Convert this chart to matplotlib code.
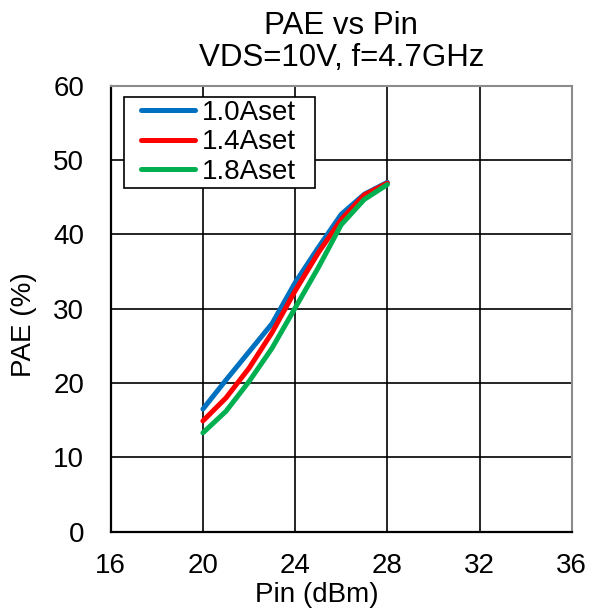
import matplotlib
matplotlib.use("Agg")
import matplotlib.pyplot as plt
from matplotlib.patches import Rectangle
from matplotlib.legend_handler import HandlerLine2D
from matplotlib.lines import Line2D

plt.rcParams['font.family'] = ['Liberation Sans', 'DejaVu Sans']

pin = [20, 21, 22, 23, 24, 25, 26, 27, 28]
pae_10 = [16.5, 20.4, 24.2, 28.0, 33.5, 38.2, 42.7, 45.4, 47.0]
pae_14 = [14.9, 18.0, 22.0, 26.8, 32.4, 37.5, 42.0, 45.3, 46.9]
pae_18 = [13.3, 16.2, 20.2, 24.7, 30.1, 35.5, 41.3, 44.7, 46.7]
labels = ['1.0Aset', '1.4Aset', '1.8Aset']
colors = ['#0070C0', '#FF0000', '#00B050']
xticks = [16, 20, 24, 28, 32, 36]
yticks = [0, 10, 20, 30, 40, 50, 60]

fig = plt.figure(figsize=(5.94, 6.11), dpi=100)
ax = fig.add_axes([0.1864, 0.1298, 0.7761, 0.7299])

for y, lab, c in zip([pae_10, pae_14, pae_18], labels, colors):
    ax.plot(pin, y, color=c, lw=3.6, label=lab, solid_capstyle='round')

ax.set_xlim(16, 36)
ax.set_ylim(0, 60)
ax.set_xticks(xticks)
ax.set_yticks(yticks)
ax.grid(True, color='black', lw=1.2)
ax.set_axisbelow(True)
ax.tick_params(axis='both', labelsize=20, length=0)
ax.tick_params(axis='x', pad=15)
ax.tick_params(axis='y', pad=19)
for s in ['left', 'bottom']:
    ax.spines[s].set_color('black')
    ax.spines[s].set_linewidth(1.6)
for s in ['top', 'right']:
    ax.spines[s].set_color('#8c8c8c')
    ax.spines[s].set_linewidth(1.5)

ax.set_xlabel('Pin (dBm)', fontsize=20)
ax.set_ylabel('PAE (%)', fontsize=20)
ax.xaxis.set_label_coords(0.447, -0.113)
ax.yaxis.set_label_coords(-0.16, 0.4635)
ax.set_title('PAE vs Pin\nVDS=10V, f=4.7GHz', fontsize=22.5, pad=14, linespacing=1.08)

fs = 20
leg = ax.legend(loc='upper left', bbox_to_anchor=(124.3 / 594, 1 - 97.3 / 611),
                bbox_transform=fig.transFigure, fontsize=fs, frameon=False,
                handlelength=2.45, handletextpad=0.25, borderpad=0.1,
                labelspacing=0.12, borderaxespad=0,
                handler_map={Line2D: HandlerLine2D(xpad=0.5)})
leg.set_zorder(6)

fig.canvas.draw()
bb = leg.get_window_extent().transformed(fig.transFigure.inverted())
extra = 16 / 594
rect = Rectangle((bb.x0, bb.y0), bb.width + extra, bb.height,
                 transform=fig.transFigure, facecolor='white',
                 edgecolor='black', lw=1.2, zorder=5.5, clip_on=False)
ax.add_artist(rect)

fig.savefig('out.png', dpi=100)
